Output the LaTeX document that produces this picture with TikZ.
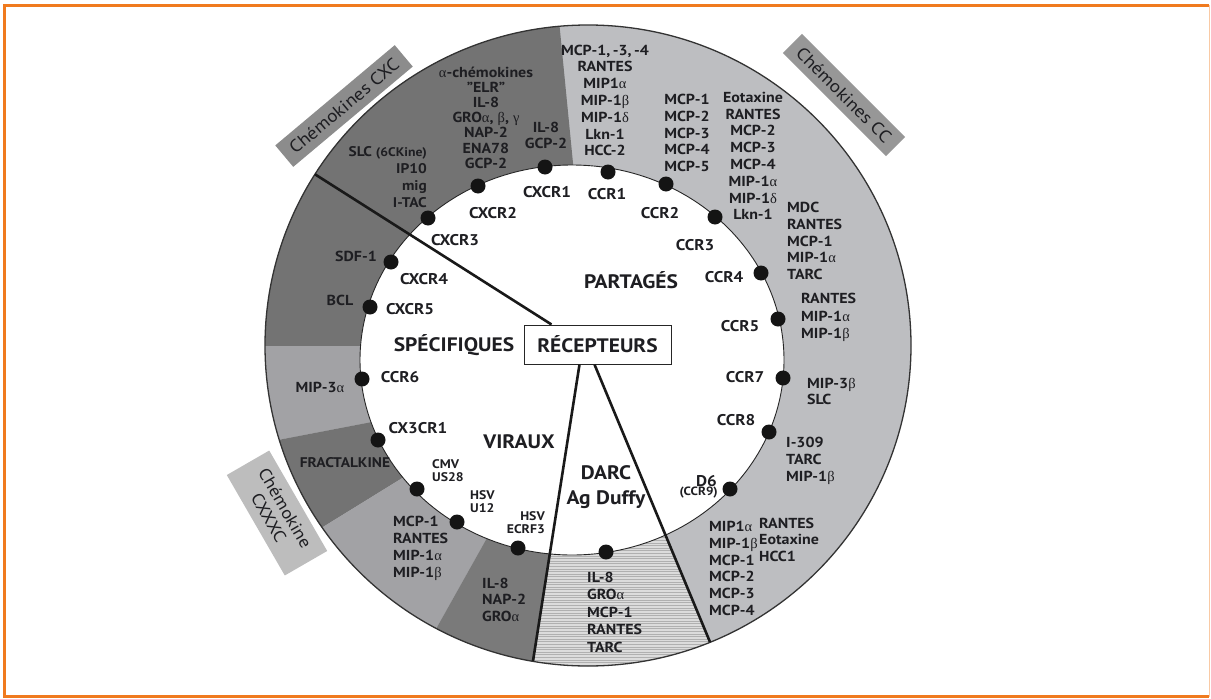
\documentclass[tikz,border=0pt]{standalone}
\usepackage{fontspec}
\setmainfont[FakeStretch=1.1]{PT Sans}
\newfontfamily\gkfont{Liberation Serif}
\newcommand\Gal{{\gkfont\mdseries α}}
\newcommand\Gbe{{\gkfont\mdseries β}}
\newcommand\Gga{{\gkfont\mdseries γ}}
\newcommand\Gde{{\gkfont\mdseries δ}}
\definecolor{txt}{HTML}{1E1E22}
\definecolor{darkg}{HTML}{737373}
\definecolor{medg}{HTML}{A2A2A5}
\definecolor{lightg}{HTML}{BDBEC1}
\definecolor{hatchbg}{HTML}{DCDCDC}
\definecolor{hatchln}{HTML}{B0B0B0}
\definecolor{frameor}{HTML}{F07A1E}
\definecolor{boxcxc}{HTML}{8C8C8C}
\definecolor{boxcc}{HTML}{979797}
\definecolor{boxcx3}{HTML}{BDBDBD}
\begin{document}
\begin{tikzpicture}[x=1pt,y=-1pt,
  lig/.style={font=\fontsize{14.5}{16.8}\selectfont\bfseries, text=txt, inner sep=0pt, align=center},
  ligl/.style={lig, align=left, anchor=west},
  ligr/.style={lig, align=right, anchor=east},
  rlab/.style={font=\fontsize{15.5}{16}\selectfont\bfseries, text=txt, inner sep=0pt},
  vir/.style={font=\fontsize{12.5}{13}\selectfont\bfseries, text=txt, inner sep=0pt},
  sect/.style={font=\fontsize{19.5}{25}\selectfont\bfseries, text=txt, inner sep=0pt, align=center},
  dot/.style={circle, fill=black!92, minimum size=15pt, inner sep=0pt},
  fam/.style={inner sep=0pt, font=\fontsize{17.5}{19}\selectfont, text=txt, align=center},
  bline/.style={line width=2.6pt, black!90},
  ring/.style={x radius=323pt, y radius=320.5pt}
]
\useasboundingbox (0,0) rectangle (1211,699);
% frame
\draw[frameor, line width=3pt] (1209,5.5) -- (4.5,5.5) -- (4.5,696.5) -- (1209,696.5);
\draw[frameor!40, line width=1.2pt] (1209.5,5) -- (1209.5,697);

% key coordinates
\coordinate (cen) at (580,364);
\coordinate (o1) at (315,174.3);
\coordinate (o2) at (533,661);
\coordinate (o3) at (710,642);

% ring base
\fill[lightg] (588,345.5) ellipse [ring];
\begin{scope}
  \clip (588,345.5) ellipse [ring];
  \fill[darkg] (cen) -- (573,163) -- (557,0) -- (200,0) -- (200,346) -- (361,346) -- cycle;
  \fill[medg] (cen) -- (361,346) -- (200,346) -- (200,455) -- (372,422) -- cycle;
  \fill[darkg] (cen) -- (372,422) -- (200,455) -- (250,572) -- (404,477) -- cycle;
  \fill[medg] (cen) -- (404,477) -- (250,572) -- (385,720) -- (487,538) -- cycle;
  \fill[darkg!95!white] (cen) -- (487,538) -- (385,720) -- (523.5,720) -- cycle;
  \fill[hatchbg] (cen) -- (523.5,720) -- (742.3,720) -- (595,364) -- cycle;
  \clip (cen) -- (523.5,720) -- (742.3,720) -- (595,364) -- cycle;
  \foreach \yy in {530,532.6,...,672} \draw[hatchln, line width=0.7pt] (500,\yy) -- (760,\yy);
\end{scope}
% inner white ellipse
\filldraw[fill=white, draw=black!85, line width=0.9pt] (572,360) ellipse [x radius=212pt, y radius=195pt];
\draw[black!80, line width=1.3pt] (588,345.5) ellipse [ring];

% receptor box
\node[draw=black!85, line width=1pt, fill=white, minimum width=147pt, minimum height=39pt, inner sep=0pt,
      font=\fontsize{19.5}{20}\selectfont\bfseries, text=txt] (rec) at (597.5,344.5) {RÉCEPTEURS};
\draw[bline] (rec.north west) ++(28,0) -- (o1);
\draw[bline] (rec.south west) ++(56,0) -- (o2);
\draw[bline] (rec.south west) ++(71,0) -- (o3);

% section labels
\node[sect] (partages) at (631,280) {PARTAGÉS};
\node[sect] (specif) at (454,345) {SPÉCIFIQUES};
\node[sect] (viraux) at (519,442) {VIRAUX};
\node[sect] (darc) at (606,487.5) {DARC\\Ag Duffy};

% dots
\node[dot] (dCXCR1) at (545,167) {};
\node[dot] (dCXCR2) at (478,186) {};
\node[dot] (dCXCR3) at (428,218) {};
\node[dot] (dCXCR4) at (391,262) {};
\node[dot] (dCXCR5) at (370,307) {};
\node[dot] (dCCR6) at (362,379) {};
\node[dot] (dCX3CR1) at (378,440) {};
\node[dot] (dCMV) at (417,489) {};
\node[dot] (dU12) at (457,522) {};
\node[dot] (dECRF3) at (518,548) {};
\node[dot] (dDARC) at (606,552) {};
\node[dot] (dD6) at (730,489) {};
\node[dot] (dCCR8) at (769,432) {};
\node[dot] (dCCR7) at (783,378) {};
\node[dot] (dCCR5) at (778,319) {};
\node[dot] (dCCR4) at (761,273) {};
\node[dot] (dCCR3) at (715,217) {};
\node[dot] (dCCR2) at (666,184) {};
\node[dot] (dCCR1) at (608,172) {};

% receptor labels
\node[rlab] (lCXCR1) at (547,192) {CXCR1};
\node[rlab] (lCXCR2) at (493,213) {CXCR2};
\node[rlab] (lCXCR3) at (455,240) {CXCR3};
\node[rlab] (lCXCR4) at (424,279) {CXCR4};
\node[rlab] (lCXCR5) at (410,309) {CXCR5};
\node[rlab] (lCCR6) at (400,377) {CCR6};
\node[rlab] (lCX3CR1) at (418,428) {CX3CR1};
\node[vir, align=left, anchor=west] (lCMV) at (432,471) {CMV\\US28};
\node[vir, align=left, anchor=west] (lU12) at (470,501.5) {HSV\\U12};
\node[vir, align=right, anchor=east] (lECRF3) at (545,522.5) {HSV\\ECRF3};
\node[rlab] (lCCR1) at (607,194) {CCR1};
\node[rlab] (lCCR2) at (660,213) {CCR2};
\node[rlab] (lCCR3) at (695,245) {CCR3};
\node[rlab] (lCCR4) at (724,277) {CCR4};
\node[rlab] (lCCR5) at (740,326) {CCR5};
\node[rlab] (lCCR7) at (745,377) {CCR7};
\node[rlab] (lCCR8) at (736,420) {CCR8};
\node[rlab, anchor=east] (lD6) at (717,481) {D6};
\node[rlab, anchor=east, font=\fontsize{12}{13}\selectfont\bfseries] (lCCR9) at (718,493) {(CCR9)};

% ligands
\node[lig, font=\fontsize{14.5}{15.2}\selectfont\bfseries] (gA) at (486,117.5) {\Gal-chémokines\\"ELR"\\IL-8\\GRO\Gal, \Gbe, \Gga\\NAP-2\\ENA78\\GCP-2};
\node[lig] (gB) at (546,135.5) {IL-8\\GCP-2};
\node[ligr, font=\fontsize{14}{17}\selectfont\bfseries] (gC) at (427,177.5) {SLC {\fontsize{12.5}{17}\selectfont(6CKine)}\\IP10\\mig\\I-TAC};
\node[lig] (gD) at (605,100.5) {MCP-1,\,-3,\,-4\\RANTES\\MIP1\Gal\\MIP-1\Gbe\\MIP-1\Gde\\Lkn-1\\HCC-2};
\node[lig] (gE) at (687,133) {MCP-1\\MCP-2\\MCP-3\\MCP-4\\MCP-5};
\node[lig] (gF) at (753,156) {Eotaxine\\RANTES\\MCP-2\\MCP-3\\MCP-4\\MIP-1\Gal\\MIP-1\Gde\\Lkn-1};
\node[ligl] (gG) at (787,241) {MDC\\RANTES\\MCP-1\\MIP-1\Gal\\TARC};
\node[ligl, font=\fontsize{14.5}{17.5}\selectfont\bfseries] (gH) at (801,317.5) {RANTES\\MIP-1\Gal\\MIP-1\Gbe};
\node[ligl, font=\fontsize{14.5}{16}\selectfont\bfseries] (gI) at (807,391) {MIP-3\Gbe\\SLC};
\node[ligl] (gJ) at (786,461) {I-309\\TARC\\MIP-1\Gbe};
\node[ligl] (gK) at (709,568.5) {MIP1\Gal\\MIP-1\Gbe\\MCP-1\\MCP-2\\MCP-3\\MCP-4};
\node[ligl, font=\fontsize{14.5}{16.5}\selectfont\bfseries] (gL) at (759,539.5) {RANTES\\Eotaxine\\HCC1};
\node[ligl, font=\fontsize{14.5}{17.5}\selectfont\bfseries] (gM) at (587,612) {IL-8\\GRO\Gal\\MCP-1\\RANTES\\TARC};
\node[ligl, font=\fontsize{14.5}{16.5}\selectfont\bfseries] (gN) at (482,599.5) {IL-8\\NAP-2\\GRO\Gal};
\node[ligl] (gO) at (393,548.5) {MCP-1\\RANTES\\MIP-1\Gal\\MIP-1\Gbe};
\node[lig, font=\fontsize{14}{15}\selectfont\bfseries] (gP) at (345,463) {FRACTALKINE};
\node[lig] (gQ) at (320,387) {MIP-3\Gal};
\node[lig] (gR) at (340,300) {BCL};
\node[ligr] (gS) at (377,256) {SDF-1};

% family boxes
\node[fam, fill=boxcxc, rotate=40, minimum width=156pt, minimum height=28pt] (fCXC) at (344,106) {Chémokines CXC};
\node[fam, fill=boxcc, rotate=-45, minimum width=146pt, minimum height=27pt] (fCC) at (844,95) {Chémokines CC};
\node[fam, fill=boxcx3, rotate=-60, minimum width=116pt, minimum height=49pt, font=\fontsize{17}{19}\selectfont] (fCX3) at (277,513) {Chémokine\\CXXXC};
\end{tikzpicture}
\end{document}
